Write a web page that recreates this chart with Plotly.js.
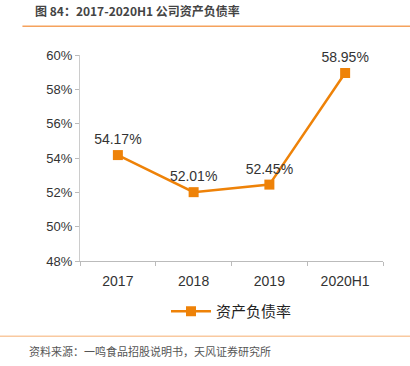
<!DOCTYPE html>
<html><head><meta charset="utf-8">
<script src="https://cdn.plot.ly/plotly-3.0.1.min.js"></script>
<style>html,body{margin:0;padding:0;background:#fff}#c{width:410px;height:366px}</style>
</head><body><div id="c"></div>
<script>
const categories = ["2017", "2018", "2019", "2020H1"];
const debtRatio = [54.17, 52.01, 52.45, 58.95];
const labels = ["54.17%", "52.01%", "52.45%", "58.95%"];
const seriesName = "资产负债率";
const yTicks = [48, 50, 52, 54, 56, 58, 60];
const yTickText = ["48%", "50%", "52%", "54%", "56%", "58%", "60%"];
const orange = "#EE8208";
const numFont = "Liberation Sans, Arial, sans-serif";
const cjk = "Noto Sans CJK SC, sans-serif";

const trace = {
  x: categories, y: debtRatio, type: "scatter", mode: "lines+markers+text",
  name: seriesName, text: labels, textposition: "top center",
  textfont: {family: numFont, size: 14, color: "#333"},
  line: {color: orange, width: 2.5},
  marker: {symbol: "square", size: 10, color: orange},
  cliponaxis: false
};
const layout = {
  width: 410, height: 366,
  margin: {l: 80, r: 27, t: 55, b: 105},
  paper_bgcolor: "#fff", plot_bgcolor: "#fff",
  showlegend: true,
  legend: {orientation: "h", x: 0.5, xanchor: "center", y: -0.165, yanchor: "top",
    itemwidth: 40, font: {family: cjk, size: 15, color: "#222"}},
  xaxis: {type: "category", range: [-0.5, categories.length - 0.5], autorange: false,
    tickson: "boundaries", ticks: "outside", ticklen: 4,
    tickcolor: "#bbb", showline: true, linecolor: "#bbb", linewidth: 1,
    showgrid: false, zeroline: false, ticklabelstandoff: 7,
    tickfont: {family: numFont, size: 14, color: "#333"}},
  yaxis: {range: [48, 60], tickvals: yTicks, ticktext: yTickText, ticks: "outside",
    ticklen: 4, tickcolor: "#bbb", showline: true, linecolor: "#ccc", linewidth: 1,
    showgrid: false, zeroline: false,
    tickfont: {family: numFont, size: 13, color: "#333"}},
  annotations: [
    {text: "<b>图 84：2017-2020H1 公司资产负债率</b>", xref: "paper", yref: "paper",
      x: -0.155, y: 1.215, xanchor: "left", yanchor: "middle", showarrow: false,
      font: {family: cjk, size: 12, color: "#444"}},
    {text: "资料来源：一鸣食品招股说明书，天风证券研究所", xref: "paper", yref: "paper",
      x: -0.175, y: -0.435, xanchor: "left", yanchor: "middle", showarrow: false,
      font: {family: cjk, size: 11, color: "#555"}}
  ],
  shapes: [
    {type: "line", xref: "paper", yref: "paper", x0: -0.19, x1: 1.09, y0: 1.14, y1: 1.14,
      line: {color: "#F5A25D", width: 1.5}},
    {type: "line", xref: "paper", yref: "paper", x0: -0.265, x1: 1.09, y0: -0.365, y1: -0.365,
      line: {color: "#F9C9A0", width: 1.5}}
  ]
};
Plotly.newPlot("c", [trace], layout, {displayModeBar: false, staticPlot: true});
</script></body></html>
